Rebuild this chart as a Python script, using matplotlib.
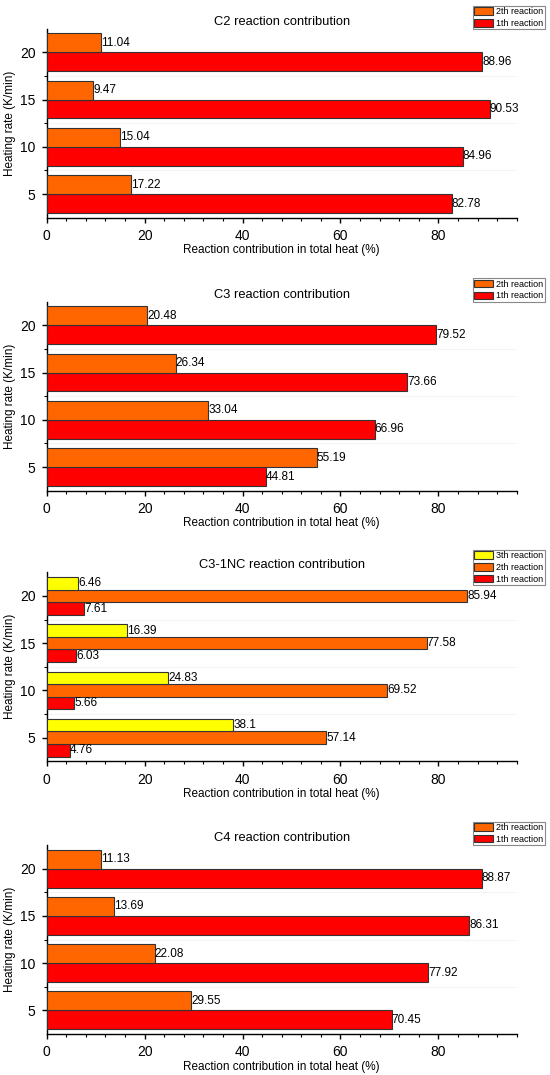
import matplotlib
matplotlib.use('Agg')
import matplotlib.pyplot as plt
from matplotlib.patches import Patch
from matplotlib.ticker import MultipleLocator, FixedLocator

plt.rcParams['font.family'] = ['Liberation Sans', 'DejaVu Sans']

# ---- data ----
rates = [5, 10, 15, 20]
titles = ['C2 reaction contribution', 'C3 reaction contribution',
          'C3-1NC reaction contribution', 'C4 reaction contribution']
series_names = ['1th reaction', '2th reaction', '3th reaction']

c2_r1 = [82.78, 84.96, 90.53, 88.96]
c2_r2 = [17.22, 15.04, 9.47, 11.04]
c3_r1 = [44.81, 66.96, 73.66, 79.52]
c3_r2 = [55.19, 33.04, 26.34, 20.48]
c31nc_r1 = [4.76, 5.66, 6.03, 7.61]
c31nc_r2 = [57.14, 69.52, 77.58, 85.94]
c31nc_r3 = [38.1, 24.83, 16.39, 6.46]
c4_r1 = [70.45, 77.92, 86.31, 88.87]
c4_r2 = [29.55, 22.08, 13.69, 11.13]

panels = [
    [c2_r1, c2_r2],
    [c3_r1, c3_r2],
    [c31nc_r1, c31nc_r2, c31nc_r3],
    [c4_r1, c4_r2],
]

colors = ['#FF0000', '#FF6600', '#FFFF00']
edge = '#333333'

W, H = 550, 1075
fig = plt.figure(figsize=(W / 100, H / 100), dpi=100)

left_px, right_px = 46.7, 516.7
tops_px = [28.7, 301.7, 572.3, 845.0]
height_px = 189.0
legend_tops = [6.0, 278.3, 550.0, 821.7]

for i, series in enumerate(panels):
    top = tops_px[i]
    ax = fig.add_axes([left_px / W, 1 - (top + height_px) / H,
                       (right_px - left_px) / W, height_px / H])
    n = len(series)
    h = 4.0 / n
    handles = []
    for k, vals in enumerate(series):
        off = (k - (n - 1) / 2) * h
        ys = [r + off for r in rates]
        bars = ax.barh(ys, vals, height=h, color=colors[k], edgecolor=edge,
                       linewidth=0.8, zorder=3)
        ax.bar_label(bars, labels=[f'{v:g}' for v in vals], padding=0,
                     fontsize=8.5, zorder=4)
        handles.append(Patch(facecolor=colors[k], edgecolor=edge,
                             linewidth=0.8, label=series_names[k]))
    ax.set_xlim(0, 96)
    ax.set_ylim(2.5, 22.5)
    ax.set_yticks(rates)
    ax.set_yticklabels([str(r) for r in rates])
    ax.yaxis.set_minor_locator(FixedLocator([7.5, 12.5, 17.5]))
    ax.set_xticks([0, 20, 40, 60, 80])
    ax.xaxis.set_minor_locator(MultipleLocator(4))
    ax.grid(axis='y', which='minor', color='#f4f4f4', linewidth=0.8, zorder=0)
    for s in ['top', 'right']:
        ax.spines[s].set_visible(False)
    for s in ['left', 'bottom']:
        ax.spines[s].set_linewidth(1.0)
    ax.tick_params(axis='both', which='major', length=3.6, width=1.0,
                   labelsize=10, pad=4.5)
    ax.tick_params(axis='both', which='minor', length=2.2, width=0.8)
    ax.set_xlabel('Reaction contribution in total heat (%)', fontsize=8.5,
                  labelpad=1.0)
    ax.set_ylabel('Heating rate (K/min)', fontsize=8.5, labelpad=3)
    ax.set_title(titles[i], fontsize=9.3, pad=3)
    leg = ax.legend(handles=handles[::-1], loc='upper right',
                    bbox_to_anchor=(544.5 / W, 1 - legend_tops[i] / H),
                    bbox_transform=fig.transFigure, fontsize=6.5,
                    frameon=True, fancybox=False, framealpha=1,
                    edgecolor='#888888', borderpad=0.15, borderaxespad=0,
                    handlelength=2.1, handleheight=0.9, handletextpad=0.3,
                    labelspacing=0.3)
    leg.get_frame().set_linewidth(0.8)

fig.savefig('out.png', dpi=100)
